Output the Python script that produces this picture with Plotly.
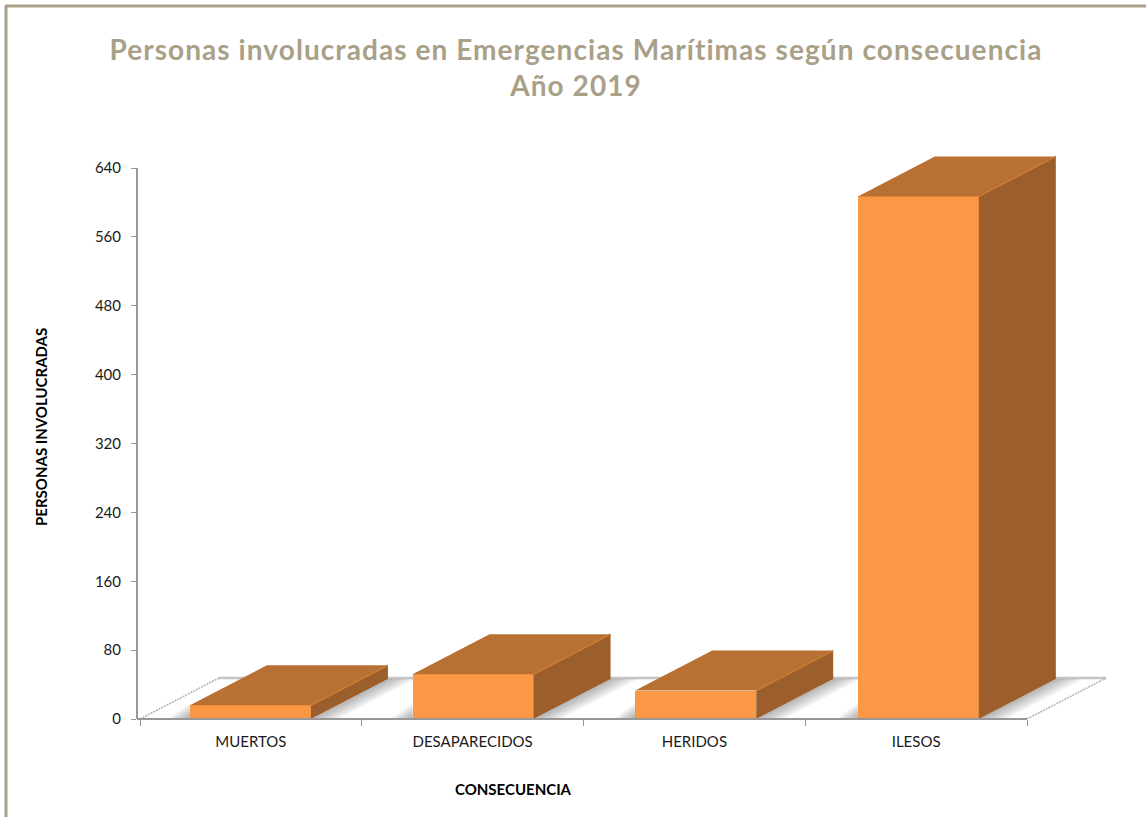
import plotly.graph_objects as go

# ---- data ----
categories = ["MUERTOS", "DESAPARECIDOS", "HERIDOS", "ILESOS"]
personas = [16, 52, 33, 607]
y_ticks = [0, 80, 160, 240, 320, 400, 480, 560, 640]
tick_centres = [0.5, 1.5, 2.5, 3.5]
boundaries = [0, 1, 2, 3, 4]
bar_centres = [0.498, 1.502, 2.506, 3.510]

title_text = "Personas involucradas en Emergencias Marítimas según consecuencia<br>Año 2019"
x_title = "CONSECUENCIA"
y_title = "PERSONAS INVOLUCRADAS"

# ---- layout in pixels ----
W, H = 1146, 817
PL, PR, PT, PB = 137, 1110, 150, 719     # plot area
X0_PX, UNIT_X = 140.0, 221.75            # pixel of x=0, pixels per category
UNIT_Y = 551.0 / 640                     # pixels per person
BAR_W = 121.0 / UNIT_X
DEPTH_X = 77.0 / UNIT_X
DEPTH_Y = 40.0 / UNIT_Y
FLOOR_X = 79.0 / UNIT_X
FLOOR_Y = 41.0 / UNIT_Y

FRONT, TOP, SIDE, EDGE = "#FB9846", "#B97033", "#9C5F2B", "#C67B38"
AXIS = "#979797"
FRAME = "#A9A088"
TITLE = "#A9A088"

def px(x):
    return (x - PL) / (PR - PL)

def py(y):
    return (PB - y) / (PB - PT)

fig = go.Figure()

def poly(xs, ys, color, name):
    fig.add_trace(go.Scatter(x=xs + xs[:1], y=ys + ys[:1], mode="lines", fill="toself",
                             fillcolor=color, line=dict(width=0, color=color),
                             hoverinfo="skip", showlegend=False, name=name))

# soft floor shadows
for cx in bar_centres:
    L, R = cx - BAR_W / 2, cx + BAR_W / 2
    for k in range(1, 7):
        s = k * 4.5 / UNIT_X
        poly([R, R + DEPTH_X, R + DEPTH_X + s, R + s], [0, DEPTH_Y, DEPTH_Y, 0],
             "rgba(60,60,60,0.065)", "sombra")
        h = k * 2.6 / UNIT_Y
        poly([L - s * 0.8, L, L], [0, 0, h], "rgba(60,60,60,0.08)", "sombra")

# front faces
fig.add_trace(go.Bar(x=bar_centres, y=personas, width=BAR_W, marker=dict(color=FRONT, line=dict(width=0)),
                     showlegend=False, name="Personas"))

# top and side faces derived from the values
for cx, v in zip(bar_centres, personas):
    L, R = cx - BAR_W / 2, cx + BAR_W / 2
    poly([R, R + DEPTH_X, R + DEPTH_X, R], [0, DEPTH_Y, v + DEPTH_Y, v], SIDE, "lateral")
    poly([L, R, R + DEPTH_X, L + DEPTH_X], [v, v, v + DEPTH_Y, v + DEPTH_Y], TOP, "superior")
    fig.add_trace(go.Scatter(x=[R, R + DEPTH_X], y=[v, v + DEPTH_Y], mode="lines",
                             line=dict(color=EDGE, width=1.5), hoverinfo="skip", showlegend=False))

x_left = (PL - X0_PX) / UNIT_X
shapes = [
    # frame
    dict(type="line", xref="paper", yref="paper", x0=px(6), x1=px(6), y0=py(H), y1=py(6),
         line=dict(color=FRAME, width=3)),
    dict(type="line", xref="paper", yref="paper", x0=px(5), x1=px(W), y0=py(6), y1=py(6),
         line=dict(color=FRAME, width=3)),
    # floor
    dict(type="line", x0=FLOOR_X, x1=4 + FLOOR_X, y0=FLOOR_Y, y1=FLOOR_Y, layer="below",
         line=dict(color="#C4C4C4", width=2.5)),
    dict(type="line", x0=0, x1=FLOOR_X, y0=0, y1=FLOOR_Y, layer="below",
         line=dict(color="#B5B5B5", width=1.6, dash="2px,1px")),
    dict(type="line", x0=4, x1=4 + FLOOR_X, y0=0, y1=FLOOR_Y, layer="below",
         line=dict(color="#B5B5B5", width=1.6, dash="2px,1px")),
    # axis lines
    dict(type="line", xref="paper", yref="y", x0=px(137), x1=px(137), y0=0, y1=640, line=dict(color=AXIS, width=2)),
    dict(type="line", xref="x", yref="paper", x0=x_left, x1=4, y0=py(719), y1=py(719), line=dict(color=AXIS, width=2)),
]

annotations = [
    dict(text=f"<b>{x_title}</b>", xref="paper", yref="paper", x=px(513), y=py(789), showarrow=False,
         font=dict(family="Lato", size=15, color="#000000"), xanchor="center", yanchor="middle"),
    dict(text=f"<b>{y_title}</b>", xref="paper", yref="paper", x=px(41), y=py(427), showarrow=False, textangle=-90,
         font=dict(family="Lato", size=15, color="#000000"), xanchor="center", yanchor="middle"),
]

fig.update_layout(
    width=W, height=H, margin=dict(l=PL, r=W - PR, t=PT, b=H - PB, pad=0),
    paper_bgcolor="white", plot_bgcolor="white", showlegend=False, bargap=0,
    title=dict(text=f"<b>{title_text}</b>", x=576 / W, xanchor="center", xref="container",
               y=1 - 60 / H, yanchor="top", font=dict(family="Lato", size=28, color=TITLE)),
    shapes=shapes, annotations=annotations,
    xaxis=dict(range=[x_left, (PR - X0_PX) / UNIT_X], tickmode="array", tickvals=tick_centres, ticktext=categories,
               ticks="", showgrid=False, zeroline=False, showline=False, ticklabelstandoff=12,
               tickfont=dict(family="Lato", size=15, color="#1a1a1a"),
               minor=dict(tickmode="array", tickvals=boundaries, ticks="outside", ticklen=6, tickcolor=AXIS,
                          tickwidth=1.4, showgrid=False)),
    yaxis=dict(range=[0, (PB - PT) / UNIT_Y], tickmode="array", tickvals=y_ticks, ticks="outside", ticklen=5,
               tickcolor=AXIS, tickwidth=1.4, showgrid=False, zeroline=False, showline=False, ticklabelstandoff=7,
               tickfont=dict(family="Lato", size=15, color="#1a1a1a")),
)

fig.write_html("out.html", config=dict(displayModeBar=False),
               post_script="document.body.style.margin='0';document.body.style.overflow='hidden';"
                           "document.querySelectorAll('.gtitle').forEach(function(t){t.style.letterSpacing='1.07px';});")
